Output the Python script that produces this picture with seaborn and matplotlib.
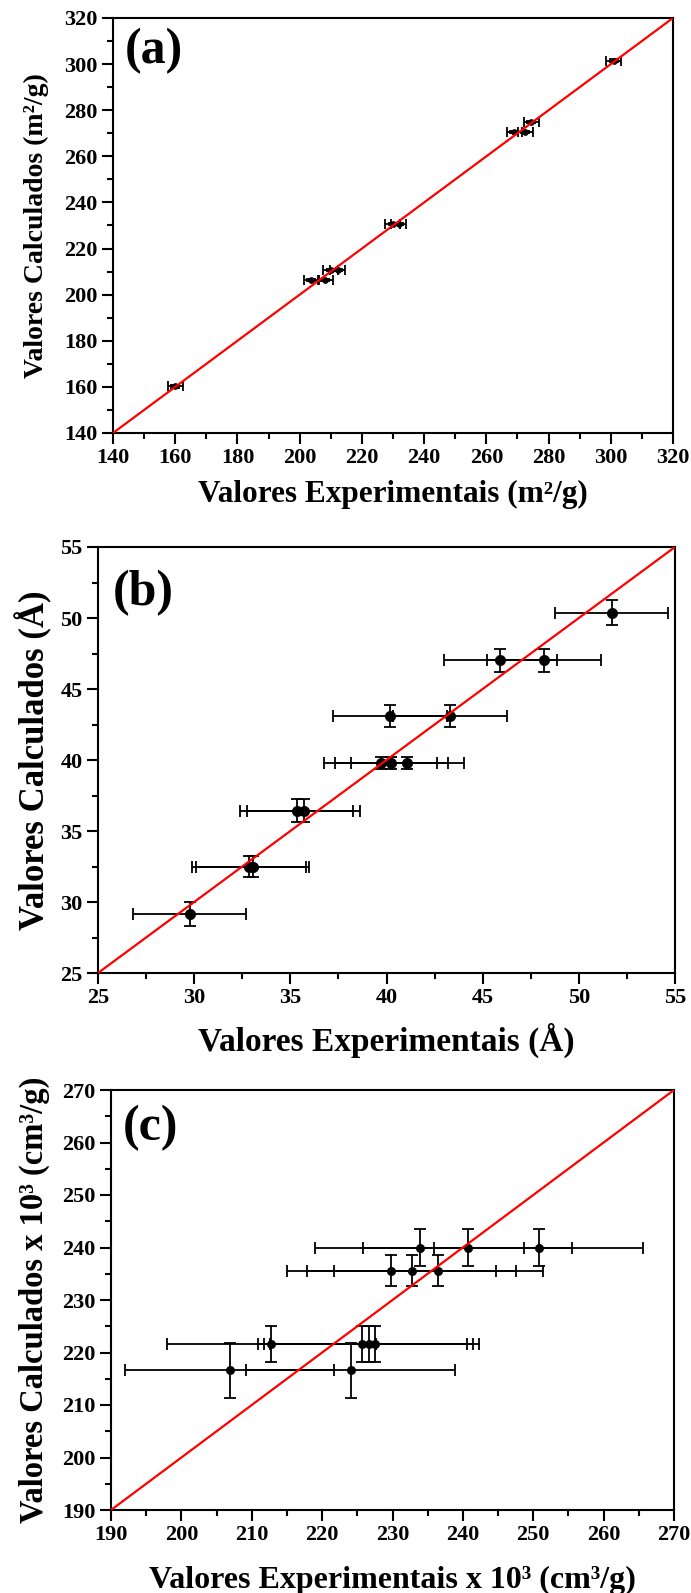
import matplotlib
matplotlib.use("Agg")
import matplotlib.pyplot as plt
import seaborn as sns
from matplotlib.ticker import MultipleLocator

# ---------------- data ----------------
# (a) surface area (m2/g)
a_exp = [160.0, 203.8, 208.3, 210.0, 212.2, 229.9, 231.9, 269.0, 272.5, 274.5, 300.9]
a_calc = [160.2, 206.4, 206.4, 210.8, 210.8, 230.8, 230.8, 270.7, 270.7, 274.9, 301.5]
a_xerr = [2.4] * 11
a_yerr = [0.5] * 11

# (b) pore diameter (Angstrom)
b_exp = [29.77, 32.85, 33.05, 35.33, 35.70, 39.70, 40.25, 41.08, 40.18, 43.30, 45.91, 48.19, 51.72]
b_calc = [29.17, 32.50, 32.50, 36.44, 36.44, 39.77, 39.77, 39.77, 43.09, 43.09, 47.03, 47.03, 50.38]
b_xerr = [2.94] * 13
b_yerr = [0.85, 0.77, 0.77, 0.80, 0.80, 0.43, 0.43, 0.43, 0.80, 0.80, 0.80, 0.80, 0.87]

# (c) pore volume x 10^3 (cm3/g)
c_exp = [206.86, 224.05, 212.8, 225.7, 226.6, 227.5, 229.8, 232.7, 236.5, 233.9, 240.7, 250.8]
c_calc = [216.6, 216.6, 221.7, 221.7, 221.7, 221.7, 235.6, 235.6, 235.6, 240.0, 240.0, 240.0]
c_xerr = [14.85] * 12
c_yerr = [5.2, 5.2, 3.44, 3.44, 3.44, 3.44, 3.0, 3.0, 3.0, 3.47, 3.47, 3.47]

# ---------------- style ----------------
sns.set_theme(style="ticks")
plt.rcParams['font.family'] = ['Liberation Serif', 'DejaVu Serif']
plt.rcParams['font.weight'] = 'bold'
plt.rcParams['axes.labelweight'] = 'bold'

W, H = 691, 1593
fig = plt.figure(figsize=(W / 100, H / 100), dpi=100)
fig.patch.set_facecolor('white')


def rect(l, r, t, b):
    return [l / W, 1 - b / H, (r - l) / W, (b - t) / H]


panels = [
    dict(box=(113, 673, 18, 433), lim=(140, 320), major=20, minor=10,
         x=a_exp, y=a_calc, xe=a_xerr, ye=a_yerr, ms=18, cap=3.5,
         tag='(a)', tagpos=(125, 28),
         xlabel='Valores Experimentais (m²/g)', ylabel='Valores Calculados (m²/g)',
         xl_fs=22.5, yl_fs=20, xl_dy=61, yl_x=36),
    dict(box=(98, 675, 547, 973), lim=(25, 55), major=5, minor=2.5,
         x=b_exp, y=b_calc, xe=b_xerr, ye=b_yerr, ms=55, cap=4.5,
         tag='(b)', tagpos=(113, 570),
         xlabel='Valores Experimentais (Å)', ylabel='Valores Calculados (Å)',
         xl_fs=24, yl_fs=25, xl_dy=67, yl_x=34),
    dict(box=(111, 674, 1090, 1510), lim=(190, 270), major=10, minor=5,
         x=c_exp, y=c_calc, xe=c_xerr, ye=c_yerr, ms=35, cap=4.5,
         tag='(c)', tagpos=(123, 1105),
         xlabel='Valores Experimentais x 10³ (cm³/g)', ylabel='Valores Calculados x 10³ (cm³/g)',
         xl_fs=23, yl_fs=23.5, xl_dy=70, yl_x=34),
]

for p in panels:
    l, r, t, b = p['box']
    w, h = r - l, b - t
    ax = fig.add_axes(rect(l, r, t, b))
    ax.set_facecolor('white')
    lo, hi = p['lim']

    ax.errorbar(p['x'], p['y'], xerr=p['xe'], yerr=p['ye'], fmt='none',
                ecolor='black', elinewidth=1.3, capsize=p['cap'], capthick=1.3, zorder=2)
    sns.scatterplot(x=p['x'], y=p['y'], ax=ax, color='black', s=p['ms'],
                    edgecolor='black', linewidth=0.5, zorder=3, legend=False)
    sns.lineplot(x=[lo, hi], y=[lo, hi], ax=ax, color='red', linewidth=1.6, zorder=4)

    ax.set_xlim(lo, hi)
    ax.set_ylim(lo, hi)
    for axis in (ax.xaxis, ax.yaxis):
        axis.set_major_locator(MultipleLocator(p['major']))
        axis.set_minor_locator(MultipleLocator(p['minor']))
    ax.tick_params(which='major', direction='out', length=8, width=1.5,
                   labelsize=16, pad=3, colors='black', top=False, right=False)
    ax.tick_params(which='minor', direction='out', length=4.5, width=1.5,
                   top=False, right=False, colors='black')
    for lab in ax.get_xticklabels() + ax.get_yticklabels():
        lab.set_fontweight('bold')
    for sp in ax.spines.values():
        sp.set_visible(True)
        sp.set_linewidth(1.5)
        sp.set_color('black')

    ax.set_xlabel(p['xlabel'], fontsize=p['xl_fs'], fontweight='bold', color='black')
    ax.set_ylabel(p['ylabel'], fontsize=p['yl_fs'], fontweight='bold', color='black')
    ax.xaxis.set_label_coords(0.5, -p['xl_dy'] / h)
    ax.xaxis.label.set_verticalalignment('center')
    ax.yaxis.set_label_coords(-(l - p['yl_x']) / w, 0.5)
    ax.yaxis.label.set_verticalalignment('center')

    tx, ty = p['tagpos']
    ax.text((tx - l) / w, 1 - (ty - t) / h, p['tag'], transform=ax.transAxes,
            fontsize=36, fontweight='bold', ha='left', va='top', color='black')

fig.savefig('out.png', dpi=100, facecolor='white')
